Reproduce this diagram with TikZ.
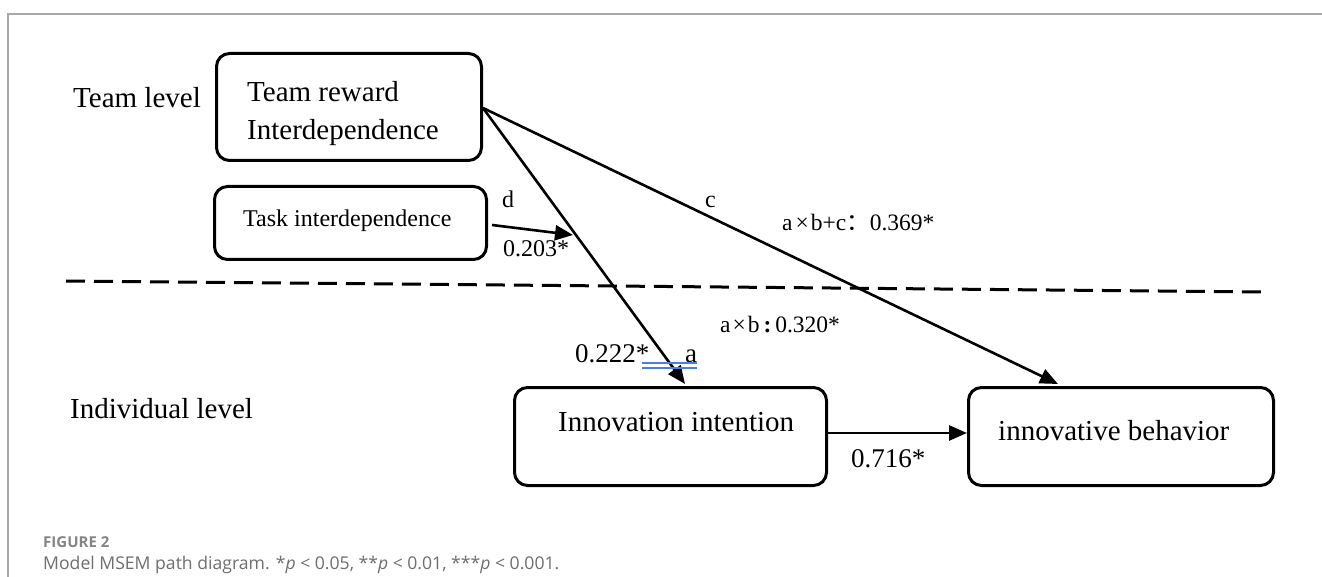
\documentclass[tikz,border=0pt]{standalone}
\usepackage{fontspec}
\setmainfont{Liberation Serif}
\newfontfamily\capfont{Open Sans}
\newfontfamily\cjkfont{Noto Sans CJK SC}
\usetikzlibrary{arrows.meta,calc}
\definecolor{capgray}{HTML}{6E6E6E}
\definecolor{framegray}{HTML}{A8A8A8}
\definecolor{ulblue}{HTML}{4A7FE0}
\tikzset{
  box/.style={draw, line width=3pt, rounded corners=13pt, inner sep=0pt},
  big/.style={font=\fontsize{29}{34}\selectfont, inner sep=0pt, anchor=base west},
  mid/.style={font=\fontsize{24}{28}\selectfont, inner sep=0pt, anchor=base west},
  lab/.style={font=\fontsize{23.5}{28}\selectfont, inner sep=0pt, anchor=base west},
  num/.style={font=\fontsize{27}{32}\selectfont, inner sep=0pt, anchor=base west},
  arr/.style={line width=2.6pt, -{Triangle[length=18pt,width=15pt]}},
  sep/.style={line width=3pt, dash pattern=on 19pt off 9pt},
}
\begin{document}
\begin{tikzpicture}[x=1pt,y=-1pt]
\useasboundingbox (0,0) rectangle (1322,577);
% frame
\draw[framegray, line width=2pt] (8,577) -- (8,14) -- (1322,14);
% boxes
\node[box, minimum width=265pt, minimum height=107pt] (trb) at (349,107) {};
\node[box, minimum width=272pt, minimum height=73pt] (task) at (350.5,223) {};
\node[box, minimum width=312pt, minimum height=98pt] (ii) at (670.5,436.5) {};
\node[box, minimum width=305pt, minimum height=98pt] (ib) at (1121,436.5) {};
% texts
\node[big] (tl) at (73,108) {Team level};
\node[big] (il) at (70,418) {Individual level};
\node[big] (t1) at (247,102) {Team reward};
\node[big] (t2) at (247,140) {Interdependence};
\node[mid] (t3) at (243,227) {Task interdependence};
\node[big] (t4) at (558,431) {Innovation intention};
\node[big] (t5) at (998,440) {innovative behavior};
% separator
\coordinate (sepL) at (66,281);
\coordinate (sepR) at (1268,292);
\draw[sep] (sepL) -- (sepR);
% connectors
\coordinate (atip) at (685,384);
\coordinate (ctip) at (1058,384);
\coordinate (dtip) at (573,235);
\draw[arr] ([yshift=-1pt]trb.east) -- (atip);
\draw[arr] ([yshift=-1pt]trb.east) -- (ctip);
\draw[arr] ([xshift=4pt,yshift=-2pt]task.east) -- (dtip);
\draw[arr] ([yshift=3.5pt]ii.east) -- ([yshift=3.5pt]ib.west);
% labels
\node[mid] (ld) at (502,208) {d};
\node[mid] (ld2) at (503,257) {0.203*};
\node[mid] (lc) at (705,208) {c};
\node[lab] (lc2) at (782,231) {a\hspace{3pt}×\hspace{2pt}b+c{\cjkfont ：}0.369*};
\node[lab] (lab2) at (720,332) {a\hspace{2pt}×\hspace{2pt}b\,{\bfseries :}\,0.320*};
\node[num] (la) at (575,362) {0.222*};
\node[num] (la2) at (685,362) {a};
\node[num] (lb) at (851,467) {0.716*};
\coordinate (u1) at (642,363);
\coordinate (u2) at (697,363);
\coordinate (u3) at (642,368);
\coordinate (u4) at (697,368);
\draw[ulblue, line width=1.3pt] (u1) -- (u2);
\draw[ulblue, line width=1.3pt] (u3) -- (u4);
% caption
\node[font=\capfont\bfseries\fontsize{15}{18}\selectfont, text=capgray!85, inner sep=0pt, anchor=base west] (cap1) at (43,547) {FIGURE 2};
\node[font=\capfont\fontsize{17.6}{21}\selectfont, text=capgray, inner sep=0pt, anchor=base west] (cap2) at (43,569) {Model MSEM path diagram. *\textit{p} < 0.05, **\textit{p} < 0.01, ***\textit{p} < 0.001.};
\end{tikzpicture}
\end{document}
